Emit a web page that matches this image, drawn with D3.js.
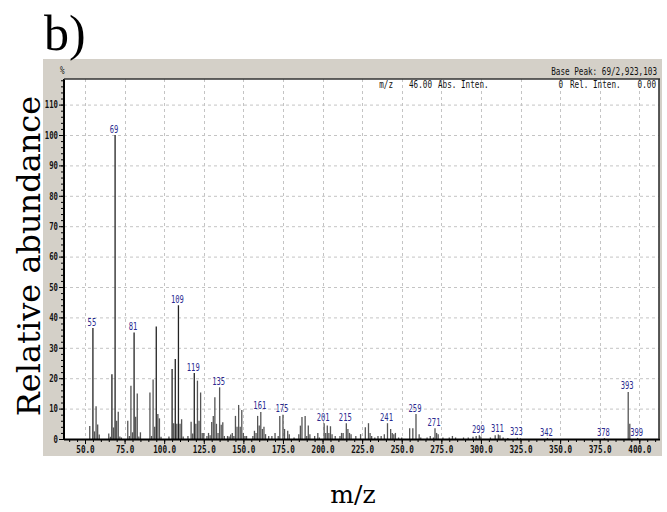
<html>
<head>
<script src="https://d3js.org/d3.v7.min.js"></script>
<style>
  body { margin:0; background:#fff; }
  .pix { font-family:"DejaVu Sans Mono", monospace; }
</style>
</head>
<body>
<div id="chart"></div>
<script>

// peak list (m/z, relative intensity %)
var mz    = [53, 55, 56, 57, 58, 59, 65, 66, 67, 68, 69, 70, 71, 72, 73,
             77, 78, 79, 80, 81, 82, 83, 84, 85, 91, 92, 93, 94, 95, 96, 97, 98,
             103, 105, 106, 107, 108, 109, 110, 111, 112, 115, 117, 118, 119, 120,
             121, 122, 123, 124, 125, 127, 128, 129, 130, 131, 132, 133, 134, 135,
             136, 137, 138, 140, 141, 142, 143, 144, 145, 146, 147, 148, 149, 150,
             151, 152, 156, 157, 158, 159, 160, 161, 162, 163, 164, 166, 168, 170,
             172, 173, 175, 176, 178, 179, 182, 185, 186, 187, 189, 190, 191, 192,
             195, 197, 198, 201, 202, 203, 204, 205, 206, 208, 211, 212, 213, 215,
             216, 217, 218, 221, 224, 227, 229, 230, 231, 233, 235, 237, 239, 241,
             243, 244, 245, 246, 248, 250, 255, 257, 259, 261, 262, 266, 268, 270,
             271, 272, 273, 276, 280, 282, 284, 289, 292, 295, 297, 299, 300, 306,
             309, 311, 312, 314, 317, 323, 325, 342, 378, 393, 394, 399];
var inten = [4.3, 36.5, 2.5, 10.8, 4.8, 1.5, 1.8, 0.7, 21.3, 3.8, 100, 6, 9, 0.8, 0.5,
             6, 1, 17.5, 2.2, 35, 7.3, 15, 0.8, 2.2, 15.3, 1, 19.6, 4, 37, 8.2, 6.8, 0.7,
             0.8, 23, 5.2, 26.3, 5, 44, 5, 6.5, 0.8, 1, 5.7, 1.8, 21.7, 5,
             19.2, 6, 15.3, 2, 2, 1, 2, 1.2, 5.6, 7.6, 13.7, 5, 2, 17,
             4.7, 5.5, 1, 1, 0.8, 1.5, 2, 1, 7.6, 4, 11.2, 4, 9.5, 2,
             1, 1, 1, 2.7, 2, 7.6, 4.4, 8.9, 3.3, 4, 1.6, 1, 1, 2,
             1, 7.6, 8, 3.3, 2.7, 1.6, 0.5, 1.6, 4.4, 7.2, 7.6, 1, 4.4, 1.6,
             1, 2, 0.5, 5.2, 2, 4.4, 2, 4.2, 1.6, 1, 1, 2, 2, 5.2,
             3.3, 2, 1.6, 1, 1.6, 3.9, 5.2, 2, 1, 0.5, 1, 1, 1.6, 5.2,
             3.3, 2, 1.6, 2, 0.5, 0.5, 3.5, 3.5, 8.2, 1.6, 0.5, 0.5, 1, 0.5,
             3.5, 2, 1.6, 0.5, 0.5, 1, 0.5, 0.5, 0.5, 0.7, 1, 1.2, 0.8, 0.5,
             1.2, 1.5, 1.2, 0.5, 0.3, 0.4, 0.2, 0.3, 0.3, 15.5, 5, 0.3];
var peakLabels = [55, 69, 81, 109, 119, 135, 161, 175, 201, 215, 241, 259, 271,
                  299, 311, 323, 342, 378, 393, 399];
var xMajor = d3.range(50, 401, 25);
var xMinor = d3.range(40, 411, 5);
var yMajor = d3.range(0, 111, 10);
var yMinor = d3.range(0, 119, 2);

var W = 667, H = 512;
var plot = {left:64, right:659, top:79, bottom:439};

var svg = d3.select("#chart").append("svg")
            .attr("width", W).attr("height", H);

var x = d3.scaleLinear().domain([50, 400]).range([85, 639.3]);
var y = d3.scaleLinear().domain([0, 100]).range([plot.bottom, 135]);

// squeeze the monospace glyphs to look like the instrument's pixel font
function squeeze(sel, perChar) {
  sel.each(function() {
    var t = d3.select(this);
    var s = t.text();
    if (s.length) t.attr("textLength", s.length * perChar).attr("lengthAdjust", "spacingAndGlyphs");
  });
}

// grey instrument panel
svg.append("rect")
   .attr("x", 43).attr("y", 59).attr("width", 619).attr("height", 397)
   .attr("fill", "#d4d0c8");
svg.append("rect")
   .attr("x", plot.left).attr("y", plot.top)
   .attr("width", plot.right - plot.left).attr("height", plot.bottom - plot.top)
   .attr("fill", "#fff");

// dashed grid
svg.append("g").selectAll("line").data(yMajor.filter(d => d > 0)).enter().append("line")
   .attr("x1", plot.left).attr("x2", plot.right)
   .attr("y1", d => y(d) + 0.5).attr("y2", d => y(d) + 0.5)
   .attr("stroke", "#c4c4c4").attr("stroke-dasharray", "3,3");
svg.append("g").selectAll("line").data(xMajor).enter().append("line")
   .attr("x1", d => Math.round(x(d)) + 0.5).attr("x2", d => Math.round(x(d)) + 0.5)
   .attr("y1", plot.top).attr("y2", plot.bottom)
   .attr("stroke", "#c4c4c4").attr("stroke-dasharray", "3,3");

// spectrum sticks
var peaks = mz.map((m, i) => ({mz:m, v:inten[i]}));
svg.append("g").selectAll("line").data(peaks).enter().append("line")
   .attr("x1", d => x(d.mz)).attr("x2", d => x(d.mz))
   .attr("y1", plot.bottom).attr("y2", d => y(d.v))
   .attr("stroke", d => d.v > 20 ? "#222" : "#555")
   .attr("stroke-width", 1.3);

// peak labels
var labelled = peaks.filter(d => peakLabels.indexOf(d.mz) != -1);
svg.append("g").selectAll("text").data(labelled).enter().append("text")
   .attr("class", "pix")
   .attr("x", d => x(d.mz) - 1)
   .attr("y", d => y(d.v) - 2.5)
   .attr("text-anchor", "middle")
   .attr("font-size", 11)
   .attr("fill", "#2a2a90")
   .text(d => d.mz)
   .call(squeeze, 4.3);

// y axis
var yAxisMinor = d3.axisLeft(y).tickValues(yMinor).tickSize(3).tickFormat("");
var yAxis = d3.axisLeft(y).tickValues(yMajor).tickSize(5).tickPadding(1);
svg.append("g").attr("transform", "translate(" + plot.left + ",0)").call(yAxisMinor)
   .call(g => g.select(".domain").remove());
var gy = svg.append("g").attr("transform", "translate(" + plot.left + ",0)").call(yAxis);
gy.select(".domain").remove();
gy.selectAll("text").attr("class", "pix").attr("font-size", 10.5).attr("fill", "#111")
  .attr("font-weight", "bold")
  .call(squeeze, 4.4);

// x axis
var xAxisMinor = d3.axisBottom(x).tickValues(xMinor).tickSize(3).tickFormat("");
var xAxis = d3.axisBottom(x).tickValues(xMajor).tickSize(5).tickPadding(2)
              .tickFormat(d3.format(".1f"));
svg.append("g").attr("transform", "translate(0," + plot.bottom + ")").call(xAxisMinor)
   .call(g => g.select(".domain").remove());
var gx = svg.append("g").attr("transform", "translate(0," + plot.bottom + ")").call(xAxis);
gx.select(".domain").remove();
gx.selectAll("text").attr("class", "pix").attr("font-size", 10.5).attr("fill", "#111")
  .attr("font-weight", "bold")
  .call(squeeze, 4.6);

// frame
svg.append("line").attr("x1", plot.left).attr("x2", plot.right + 1)
   .attr("y1", plot.bottom + 0.5).attr("y2", plot.bottom + 0.5)
   .attr("stroke", "#000").attr("stroke-width", 2);
svg.append("line").attr("x1", plot.left).attr("x2", plot.left)
   .attr("y1", plot.top).attr("y2", plot.bottom + 1)
   .attr("stroke", "#000").attr("stroke-width", 2);
svg.append("line").attr("x1", plot.left).attr("x2", plot.right + 1)
   .attr("y1", plot.top).attr("y2", plot.top)
   .attr("stroke", "#333").attr("stroke-width", 1.6);
svg.append("line").attr("x1", plot.right).attr("x2", plot.right)
   .attr("y1", plot.top).attr("y2", plot.bottom)
   .attr("stroke", "#333").attr("stroke-width", 1.6);

// instrument header texts
var header = [
  {t:"%", x:60, y:74, a:"start"},
  {t:"Base Peak: 69/2,923,103", x:657, y:74.5, a:"end"},
  {t:"m/z", x:393, y:88, a:"end"},
  {t:"46.00", x:432, y:88, a:"end"},
  {t:"Abs. Inten.", x:438, y:88, a:"start"},
  {t:"0", x:563, y:88, a:"end"},
  {t:"Rel. Inten.", x:570, y:88, a:"start"},
  {t:"0.00", x:656, y:88, a:"end"}
];
svg.append("g").selectAll("text").data(header).enter().append("text")
   .attr("class", "pix")
   .attr("x", d => d.x).attr("y", d => d.y)
   .attr("text-anchor", d => d.a)
   .attr("font-size", 10.5).attr("fill", "#111")
   .text(d => d.t)
   .call(squeeze, 4.6);

// outer labels
svg.append("text")
   .attr("x", 44).attr("y", 50)
   .style("font-family", "Liberation Serif, serif")
   .attr("font-size", 50)
   .text("b)");
svg.append("text")
   .attr("transform", "translate(40,256) rotate(-90)")
   .attr("text-anchor", "middle")
   .style("font-family", "DejaVu Serif, serif")
   .attr("font-size", 32)
   .text("Relative abundance");
svg.append("text")
   .attr("x", 353).attr("y", 503)
   .attr("text-anchor", "middle")
   .style("font-family", "DejaVu Serif, serif")
   .attr("font-size", 25)
   .text("m/z");

</script>
</body>
</html>
